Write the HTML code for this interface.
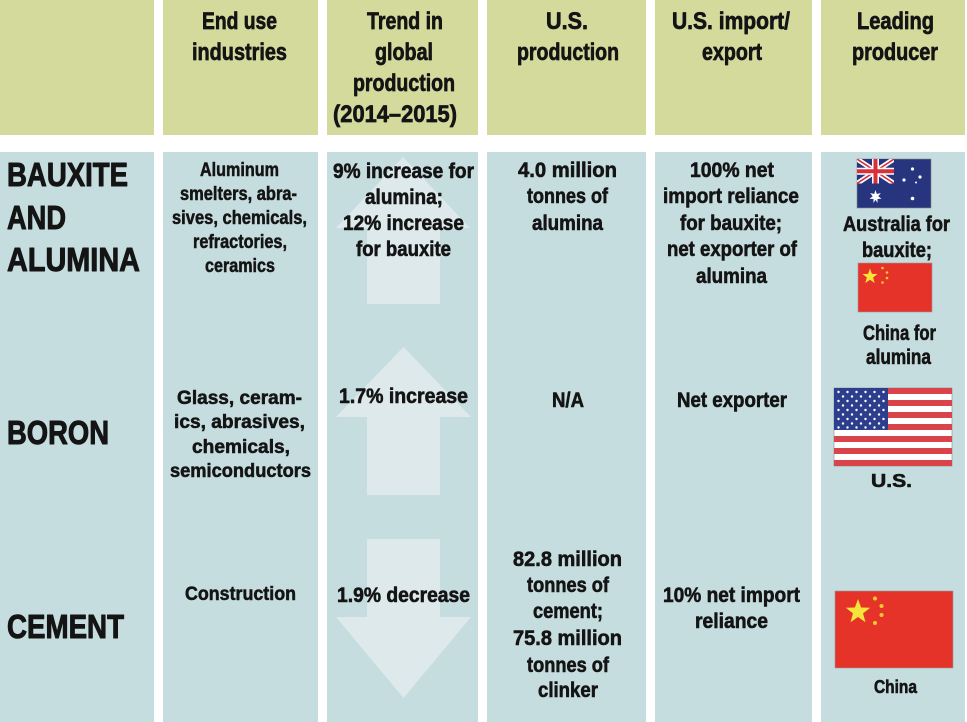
<!DOCTYPE html>
<html><head><meta charset="utf-8"><style>
html,body{margin:0;padding:0;background:#fff;}
svg{display:block;}
text{font-family:"Liberation Sans",Arial,sans-serif;font-weight:bold;fill:#141414;stroke:#141414;stroke-linejoin:round;}
</style></head><body>
<svg width="967" height="722" viewBox="0 0 967 722" xmlns="http://www.w3.org/2000/svg">
<defs>
<clipPath id="ujc"><rect x="0" y="0" width="37" height="24.5"/></clipPath>
</defs>
<rect width="967" height="722" fill="#fff"/>
<!-- header -->
<g fill="#d3da9c">
<rect x="0" y="0" width="154" height="135"/>
<rect x="163" y="0" width="155" height="135"/>
<rect x="327" y="0" width="151" height="135"/>
<rect x="487" y="0" width="159" height="135"/>
<rect x="655" y="0" width="157" height="135"/>
<rect x="821" y="0" width="144" height="135"/>
</g>
<!-- body -->
<g fill="#c6dde0">
<rect x="0" y="152" width="154" height="570"/>
<rect x="163" y="152" width="155" height="570"/>
<rect x="327" y="152" width="151" height="570"/>
<rect x="487" y="152" width="159" height="570"/>
<rect x="655" y="152" width="157" height="570"/>
<rect x="821" y="152" width="144" height="570"/>
</g>
<!-- arrows -->
<g fill="#dde9eb">
<polygon points="403,157 470,228 440,228 440,304 367,304 367,228 336,228"/>
<polygon points="403.5,347 471,417 440,417 440,495 367,495 367,417 336,417"/>
<polygon points="367,539 440,539 440,617 471,617 403.5,698 336,617 367,617"/>
</g>

<!-- header text -->
<g font-size="24" text-anchor="middle" stroke-width="0.7">
<text x="239.5" y="29" textLength="75" lengthAdjust="spacingAndGlyphs">End use</text>
<text x="239.5" y="60" textLength="95" lengthAdjust="spacingAndGlyphs">industries</text>
<text x="405" y="29" textLength="76" lengthAdjust="spacingAndGlyphs">Trend in</text>
<text x="404" y="60" textLength="58" lengthAdjust="spacingAndGlyphs">global</text>
<text x="404" y="91" textLength="102" lengthAdjust="spacingAndGlyphs">production</text>
<text x="395" y="122" textLength="124" lengthAdjust="spacingAndGlyphs">(2014–2015)</text>
<text x="567" y="29" textLength="42" lengthAdjust="spacingAndGlyphs">U.S.</text>
<text x="568" y="60" textLength="102" lengthAdjust="spacingAndGlyphs">production</text>
<text x="731" y="29" textLength="118" lengthAdjust="spacingAndGlyphs">U.S. import/</text>
<text x="732" y="60" textLength="60" lengthAdjust="spacingAndGlyphs">export</text>
<text x="895.5" y="29" textLength="77" lengthAdjust="spacingAndGlyphs">Leading</text>
<text x="895" y="60" textLength="86" lengthAdjust="spacingAndGlyphs">producer</text>
</g>

<!-- row labels -->
<g font-size="33" stroke-width="1">
<text x="7" y="186" textLength="121" lengthAdjust="spacingAndGlyphs">BAUXITE</text>
<text x="7" y="229" textLength="59" lengthAdjust="spacingAndGlyphs">AND</text>
<text x="7" y="271" textLength="133" lengthAdjust="spacingAndGlyphs">ALUMINA</text>
<text x="7" y="444" textLength="102" lengthAdjust="spacingAndGlyphs">BORON</text>
<text x="7" y="638" textLength="117" lengthAdjust="spacingAndGlyphs">CEMENT</text>
</g>

<!-- col 2 -->
<g font-size="19.5" text-anchor="middle" stroke-width="0.55">
<text x="239.5" y="176" textLength="79" lengthAdjust="spacingAndGlyphs">Aluminum</text>
<text x="238.5" y="200" textLength="117" lengthAdjust="spacingAndGlyphs">smelters, abra-</text>
<text x="239.5" y="224" textLength="135" lengthAdjust="spacingAndGlyphs">sives, chemicals,</text>
<text x="240" y="248" textLength="94" lengthAdjust="spacingAndGlyphs">refractories,</text>
<text x="240" y="272" textLength="70" lengthAdjust="spacingAndGlyphs">ceramics</text>
<text x="239.5" y="404" textLength="125" lengthAdjust="spacingAndGlyphs">Glass, ceram-</text>
<text x="239.5" y="428" textLength="131" lengthAdjust="spacingAndGlyphs">ics, abrasives,</text>
<text x="241" y="453" textLength="98" lengthAdjust="spacingAndGlyphs">chemicals,</text>
<text x="240.5" y="477" textLength="141" lengthAdjust="spacingAndGlyphs">semiconductors</text>
<text x="240.5" y="600" textLength="111" lengthAdjust="spacingAndGlyphs">Construction</text>
</g>

<!-- col 3 -->
<g font-size="21" text-anchor="middle" stroke-width="0.6">
<text x="403.5" y="178" textLength="141" lengthAdjust="spacingAndGlyphs">9% increase for</text>
<text x="404" y="204" textLength="78" lengthAdjust="spacingAndGlyphs">alumina;</text>
<text x="403.5" y="230" textLength="121" lengthAdjust="spacingAndGlyphs">12% increase</text>
<text x="403.5" y="256" textLength="95" lengthAdjust="spacingAndGlyphs">for bauxite</text>
<text x="403.5" y="403" textLength="129" lengthAdjust="spacingAndGlyphs">1.7% increase</text>
<text x="403.5" y="602" textLength="133" lengthAdjust="spacingAndGlyphs">1.9% decrease</text>
</g>

<!-- col 4 -->
<g font-size="21" text-anchor="middle" stroke-width="0.6">
<text x="567.5" y="177" textLength="99" lengthAdjust="spacingAndGlyphs">4.0 million</text>
<text x="567.5" y="203" textLength="81" lengthAdjust="spacingAndGlyphs">tonnes of</text>
<text x="567.5" y="230" textLength="71" lengthAdjust="spacingAndGlyphs">alumina</text>
<text x="568" y="407" textLength="32" lengthAdjust="spacingAndGlyphs">N/A</text>
<text x="567.5" y="566" textLength="109" lengthAdjust="spacingAndGlyphs">82.8 million</text>
<text x="568" y="592" textLength="82" lengthAdjust="spacingAndGlyphs">tonnes of</text>
<text x="568" y="618" textLength="70" lengthAdjust="spacingAndGlyphs">cement;</text>
<text x="567.5" y="645" textLength="109" lengthAdjust="spacingAndGlyphs">75.8 million</text>
<text x="568" y="672" textLength="82" lengthAdjust="spacingAndGlyphs">tonnes of</text>
<text x="568" y="697" textLength="60" lengthAdjust="spacingAndGlyphs">clinker</text>
</g>

<!-- col 5 -->
<g font-size="21" text-anchor="middle" stroke-width="0.6">
<text x="732" y="177" textLength="84" lengthAdjust="spacingAndGlyphs">100% net</text>
<text x="731" y="203" textLength="136" lengthAdjust="spacingAndGlyphs">import reliance</text>
<text x="731" y="230" textLength="102" lengthAdjust="spacingAndGlyphs">for bauxite;</text>
<text x="732" y="256" textLength="130" lengthAdjust="spacingAndGlyphs">net exporter of</text>
<text x="731.5" y="283" textLength="71" lengthAdjust="spacingAndGlyphs">alumina</text>
<text x="732" y="407" textLength="110" lengthAdjust="spacingAndGlyphs">Net exporter</text>
<text x="731.5" y="602" textLength="137" lengthAdjust="spacingAndGlyphs">10% net import</text>
<text x="731.5" y="628" textLength="73" lengthAdjust="spacingAndGlyphs">reliance</text>
</g>

<!-- col 6 text -->
<g font-size="21" text-anchor="middle" stroke-width="0.6">
<text x="896.5" y="231" textLength="107" lengthAdjust="spacingAndGlyphs">Australia for</text>
<text x="897" y="257" textLength="70" lengthAdjust="spacingAndGlyphs">bauxite;</text>
<text x="899.5" y="340" textLength="73" lengthAdjust="spacingAndGlyphs">China for</text>
<text x="898.5" y="364" textLength="65" lengthAdjust="spacingAndGlyphs">alumina</text>
<text x="891.5" y="487" font-size="18" textLength="41" lengthAdjust="spacingAndGlyphs">U.S.</text>
<text x="895.5" y="693" font-size="18" textLength="43" lengthAdjust="spacingAndGlyphs">China</text>
</g>

<!-- Australia flag -->
<g transform="translate(857,159)">
<rect width="74" height="49" fill="#27357e" stroke="#888" stroke-width="0.6"/>
<g clip-path="url(#ujc)">
<rect width="37" height="24.5" fill="#27357e"/>
<path d="M0,0 L37,24.5 M37,0 L0,24.5" stroke="#fff" stroke-width="5"/>
<path d="M0,0 L37,24.5 M37,0 L0,24.5" stroke="#d8303a" stroke-width="1.6"/>
<path d="M18.5,0 V24.5 M0,12.25 H37" stroke="#fff" stroke-width="7"/>
<path d="M18.5,0 V24.5 M0,12.25 H37" stroke="#d8303a" stroke-width="4"/>
</g>
<polygon points="18.5,31 19.8,35 23.8,34 21.3,37.3 24.5,39.8 20.5,40 20.5,44 18.5,40.8 16.5,44 16.5,40 12.5,39.8 15.7,37.3 13.2,34 17.2,35" fill="#fff"/>
<circle cx="55.5" cy="10" r="1.6" fill="#fff"/>
<circle cx="63" cy="18" r="1.6" fill="#fff"/>
<circle cx="47" cy="21" r="1.6" fill="#fff"/>
<circle cx="59" cy="23.5" r="1" fill="#fff"/>
<circle cx="55.5" cy="39.5" r="1.8" fill="#fff"/>
</g>

<!-- China flag 1 -->
<g transform="translate(858,263)">
<rect width="74" height="49" fill="#e5332a" stroke="#999" stroke-width="0.6"/>
<polygon points="12,5.5 13.9,10.9 19.6,11 15.1,14.5 16.7,20 12,16.7 7.3,20 8.9,14.5 4.4,11 10.1,10.9" fill="#f7e43a"/>
<circle cx="24.5" cy="5" r="1.3" fill="#f7c830"/>
<circle cx="29" cy="9.5" r="1.3" fill="#f7c830"/>
<circle cx="29" cy="15" r="1.3" fill="#f7c830"/>
<circle cx="24.5" cy="19.5" r="1.3" fill="#f7c830"/>
</g>

<!-- US flag -->
<g transform="translate(834,388)">
<rect width="118" height="78" fill="#fff" stroke="#888" stroke-width="0.6"/>
<g fill="#d9434a">
<rect y="0" width="118" height="6"/>
<rect y="12" width="118" height="6"/>
<rect y="24" width="118" height="6"/>
<rect y="36" width="118" height="6"/>
<rect y="48" width="118" height="6"/>
<rect y="60" width="118" height="6"/>
<rect y="72" width="118" height="6"/>
</g>
<rect width="54" height="42" fill="#2d3f8c"/>
<g fill="#fff">
<circle cx="4.5" cy="4" r="1.2"/><circle cx="13.5" cy="4" r="1.2"/><circle cx="22.5" cy="4" r="1.2"/><circle cx="31.5" cy="4" r="1.2"/><circle cx="40.5" cy="4" r="1.2"/><circle cx="49.5" cy="4" r="1.2"/>
<circle cx="9" cy="8.5" r="1.2"/><circle cx="18" cy="8.5" r="1.2"/><circle cx="27" cy="8.5" r="1.2"/><circle cx="36" cy="8.5" r="1.2"/><circle cx="45" cy="8.5" r="1.2"/>
<circle cx="4.5" cy="13" r="1.2"/><circle cx="13.5" cy="13" r="1.2"/><circle cx="22.5" cy="13" r="1.2"/><circle cx="31.5" cy="13" r="1.2"/><circle cx="40.5" cy="13" r="1.2"/><circle cx="49.5" cy="13" r="1.2"/>
<circle cx="9" cy="17.5" r="1.2"/><circle cx="18" cy="17.5" r="1.2"/><circle cx="27" cy="17.5" r="1.2"/><circle cx="36" cy="17.5" r="1.2"/><circle cx="45" cy="17.5" r="1.2"/>
<circle cx="4.5" cy="22" r="1.2"/><circle cx="13.5" cy="22" r="1.2"/><circle cx="22.5" cy="22" r="1.2"/><circle cx="31.5" cy="22" r="1.2"/><circle cx="40.5" cy="22" r="1.2"/><circle cx="49.5" cy="22" r="1.2"/>
<circle cx="9" cy="26.5" r="1.2"/><circle cx="18" cy="26.5" r="1.2"/><circle cx="27" cy="26.5" r="1.2"/><circle cx="36" cy="26.5" r="1.2"/><circle cx="45" cy="26.5" r="1.2"/>
<circle cx="4.5" cy="31" r="1.2"/><circle cx="13.5" cy="31" r="1.2"/><circle cx="22.5" cy="31" r="1.2"/><circle cx="31.5" cy="31" r="1.2"/><circle cx="40.5" cy="31" r="1.2"/><circle cx="49.5" cy="31" r="1.2"/>
<circle cx="9" cy="35.5" r="1.2"/><circle cx="18" cy="35.5" r="1.2"/><circle cx="27" cy="35.5" r="1.2"/><circle cx="36" cy="35.5" r="1.2"/><circle cx="45" cy="35.5" r="1.2"/>
<circle cx="4.5" cy="39.5" r="1.2"/><circle cx="13.5" cy="39.5" r="1.2"/><circle cx="22.5" cy="39.5" r="1.2"/><circle cx="31.5" cy="39.5" r="1.2"/><circle cx="40.5" cy="39.5" r="1.2"/><circle cx="49.5" cy="39.5" r="1.2"/>
</g>
</g>

<!-- China flag 2 -->
<g transform="translate(835,591)">
<rect width="118" height="77" fill="#e5332a" stroke="#999" stroke-width="0.6"/>
<polygon points="23,8 26.1,16.5 35.2,16.8 28,22.4 30.5,31.2 23,26 15.5,31.2 18,22.4 10.8,16.8 19.9,16.5" fill="#f7e43a"/>
<circle cx="40" cy="7.5" r="2" fill="#f7c830"/>
<circle cx="46.5" cy="15" r="2" fill="#f7c830"/>
<circle cx="46.5" cy="24" r="2" fill="#f7c830"/>
<circle cx="40" cy="32" r="2" fill="#f7c830"/>
</g>
</svg>
</body></html>
